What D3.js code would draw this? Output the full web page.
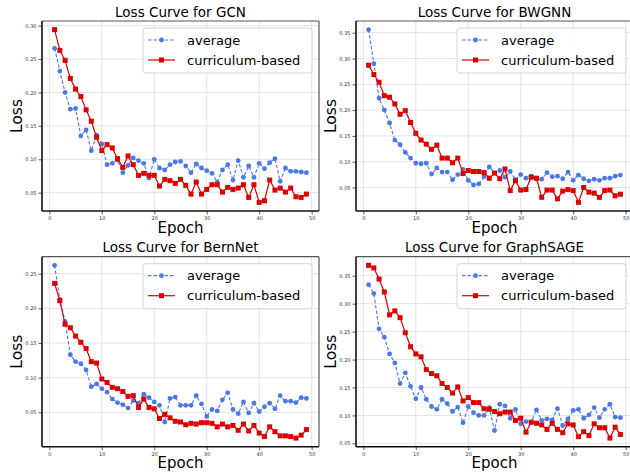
<!DOCTYPE html>
<html>
<head>
<meta charset="utf-8">
<script src="https://cdn.jsdelivr.net/npm/d3@7"></script>
<style>
  html, body { margin: 0; padding: 0; background: #fff; }
  svg { display: block; font-family: "DejaVu Sans", sans-serif; }
</style>
</head>
<body>
<svg id="chart" width="630" height="473"></svg>
<script>
// ---------------- data ----------------
const epochs = d3.range(1, 50);
const xTicks = [0, 10, 20, 30, 40, 50];
const seriesNames = ["average", "curriculum-based"];
const titles = ["Loss Curve for GCN", "Loss Curve for BWGNN", "Loss Curve for BernNet", "Loss Curve for GraphSAGE"];

const gcnAvg = [0.266,0.232,0.200,0.175,0.176,0.135,0.144,0.113,0.136,0.123,0.092,0.094,0.099,0.080,0.091,0.102,0.098,0.094,0.072,0.100,0.087,0.084,0.092,0.096,0.097,0.090,0.080,0.093,0.087,0.083,0.079,0.066,0.084,0.092,0.069,0.098,0.073,0.090,0.073,0.094,0.086,0.095,0.101,0.067,0.087,0.082,0.082,0.081,0.080];
const gcnCur = [0.294,0.263,0.248,0.221,0.205,0.194,0.174,0.157,0.133,0.113,0.122,0.117,0.101,0.088,0.105,0.092,0.076,0.079,0.076,0.076,0.060,0.070,0.068,0.064,0.070,0.061,0.048,0.066,0.048,0.055,0.062,0.062,0.051,0.058,0.055,0.057,0.062,0.043,0.062,0.0356,0.038,0.069,0.054,0.057,0.051,0.057,0.044,0.043,0.048];

const bwgnnAvg = [0.356,0.290,0.223,0.200,0.175,0.142,0.133,0.118,0.107,0.097,0.096,0.097,0.076,0.088,0.080,0.080,0.065,0.075,0.085,0.064,0.055,0.057,0.071,0.090,0.078,0.083,0.070,0.081,0.065,0.075,0.068,0.072,0.067,0.066,0.079,0.071,0.072,0.067,0.080,0.064,0.074,0.067,0.063,0.066,0.064,0.068,0.068,0.072,0.074];
const bwgnnCur = [0.287,0.269,0.254,0.228,0.225,0.212,0.192,0.199,0.176,0.155,0.142,0.134,0.124,0.132,0.107,0.107,0.098,0.107,0.077,0.083,0.081,0.081,0.079,0.068,0.078,0.067,0.086,0.044,0.063,0.045,0.046,0.070,0.068,0.031,0.045,0.045,0.028,0.043,0.046,0.044,0.0212,0.050,0.041,0.039,0.031,0.044,0.045,0.034,0.037];

const bernAvg = [0.262,0.213,0.181,0.133,0.123,0.120,0.111,0.087,0.091,0.084,0.079,0.069,0.064,0.061,0.056,0.067,0.063,0.076,0.071,0.065,0.060,0.036,0.070,0.072,0.060,0.060,0.060,0.074,0.062,0.044,0.054,0.052,0.068,0.078,0.054,0.048,0.065,0.049,0.063,0.051,0.058,0.063,0.055,0.074,0.066,0.066,0.064,0.071,0.070];
const bernCur = [0.236,0.211,0.177,0.172,0.160,0.151,0.142,0.123,0.121,0.098,0.093,0.086,0.084,0.080,0.073,0.074,0.057,0.069,0.057,0.055,0.041,0.047,0.042,0.037,0.036,0.032,0.034,0.033,0.035,0.035,0.034,0.029,0.033,0.029,0.031,0.024,0.033,0.023,0.031,0.020,0.015,0.029,0.022,0.016,0.016,0.015,0.0128,0.017,0.025];

const sageAvg = [0.334,0.318,0.255,0.240,0.210,0.194,0.157,0.176,0.152,0.130,0.150,0.129,0.116,0.111,0.129,0.121,0.107,0.115,0.087,0.116,0.105,0.100,0.100,0.114,0.073,0.120,0.117,0.095,0.111,0.085,0.089,0.088,0.110,0.091,0.094,0.092,0.112,0.082,0.094,0.109,0.111,0.095,0.101,0.114,0.096,0.111,0.120,0.097,0.096];
const sageCur = [0.3686,0.364,0.344,0.321,0.280,0.287,0.275,0.248,0.223,0.210,0.205,0.182,0.175,0.171,0.157,0.150,0.140,0.151,0.126,0.132,0.123,0.123,0.112,0.111,0.107,0.103,0.106,0.106,0.091,0.095,0.070,0.088,0.086,0.083,0.075,0.086,0.075,0.069,0.085,0.083,0.062,0.071,0.064,0.085,0.078,0.078,0.0595,0.079,0.066];

const gcnYTicks = [0.05, 0.10, 0.15, 0.20, 0.25, 0.30];
const bwgnnYTicks = [0.05, 0.10, 0.15, 0.20, 0.25, 0.30, 0.35];
const bernYTicks = [0.05, 0.10, 0.15, 0.20, 0.25];
const sageYTicks = [0.05, 0.10, 0.15, 0.20, 0.25, 0.30, 0.35];

// ---------------- layout ----------------
const panels = [
  { title: titles[0], avg: gcnAvg,   cur: gcnCur,   yTicks: gcnYTicks,   x0: 42,  y0: 21 },
  { title: titles[1], avg: bwgnnAvg, cur: bwgnnCur, yTicks: bwgnnYTicks, x0: 356, y0: 21 },
  { title: titles[2], avg: bernAvg,  cur: bernCur,  yTicks: bernYTicks,  x0: 42,  y0: 256.7 },
  { title: titles[3], avg: sageAvg,  cur: sageCur,  yTicks: sageYTicks,  x0: 356, y0: 256.7 }
];
const W = 277, H = 190;
const blue = "#4a78e6", red = "#dc0000";

const svg = d3.select("#chart");

function padDomain(lo, hi) { const r = hi - lo; return [lo - 0.05 * r, hi + 0.05 * r]; }

panels.forEach(p => {
  const g = svg.append("g").attr("transform", `translate(${p.x0},${p.y0})`);
  const x = d3.scaleLinear().domain(padDomain(1, 49)).range([0, W]);
  const all = p.avg.concat(p.cur);
  const y = d3.scaleLinear().domain(padDomain(d3.min(all), d3.max(all))).range([H, 0]);

  // clip
  const clipId = "clip" + Math.round(p.x0) + "_" + Math.round(p.y0);
  g.append("clipPath").attr("id", clipId).append("rect").attr("width", W).attr("height", H);

  // grid
  g.append("g").selectAll("line").data(xTicks).join("line")
    .attr("x1", d => x(d)).attr("x2", d => x(d)).attr("y1", 0).attr("y2", H)
    .attr("stroke", "#e3e3e3").attr("stroke-width", 1);
  g.append("g").selectAll("line").data(p.yTicks).join("line")
    .attr("x1", 0).attr("x2", W).attr("y1", d => y(d)).attr("y2", d => y(d))
    .attr("stroke", "#e3e3e3").attr("stroke-width", 1);

  // axes
  const xAxis = d3.axisBottom(x).tickValues(xTicks).tickFormat(d3.format("d")).tickSize(3.5).tickPadding(2);
  const yAxis = d3.axisLeft(y).tickValues(p.yTicks).tickFormat(d3.format(".2f")).tickSize(3.5).tickPadding(2);
  const gx = g.append("g").attr("transform", `translate(0,${H})`).call(xAxis);
  const gy = g.append("g").call(yAxis);
  [gx, gy].forEach(a => {
    a.select(".domain").remove();
    a.selectAll(".tick line").attr("stroke", "#333").attr("stroke-width", 0.8);
    a.selectAll(".tick text").attr("font-size", 5).attr("fill", "#333")
      .attr("font-family", "DejaVu Sans, sans-serif");
  });

  // series
  const line = d3.line().x((d, i) => x(epochs[i])).y(d => y(d));
  const plot = g.append("g").attr("clip-path", `url(#${clipId})`);
  plot.append("path").datum(p.avg).attr("d", line).attr("fill", "none")
    .attr("stroke", blue).attr("stroke-width", 1.1).attr("stroke-dasharray", "3.5,2");
  plot.append("g").selectAll("circle").data(p.avg).join("circle")
    .attr("cx", (d, i) => x(epochs[i])).attr("cy", d => y(d)).attr("r", 2.4).attr("fill", blue);
  plot.append("path").datum(p.cur).attr("d", line).attr("fill", "none")
    .attr("stroke", red).attr("stroke-width", 1.2);
  plot.append("g").selectAll("rect").data(p.cur).join("rect")
    .attr("x", (d, i) => x(epochs[i]) - 2.5).attr("y", d => y(d) - 2.5)
    .attr("width", 5).attr("height", 5).attr("fill", red);

  // spines
  g.append("line").attr("x1", 0).attr("x2", W).attr("y1", 0).attr("y2", 0).attr("stroke", "#555").attr("stroke-width", 1.2);
  g.append("line").attr("x1", W).attr("x2", W).attr("y1", 0).attr("y2", H).attr("stroke", "#555").attr("stroke-width", 1.2);
  g.append("line").attr("x1", 0).attr("x2", 0).attr("y1", 0).attr("y2", H).attr("stroke", "#111").attr("stroke-width", 1.6);
  g.append("line").attr("x1", 0).attr("x2", W).attr("y1", H).attr("y2", H).attr("stroke", "#111").attr("stroke-width", 1.6);

  // title & labels
  g.append("text").attr("x", W / 2).attr("y", -4.5).attr("text-anchor", "middle")
    .attr("font-size", 13.5).attr("fill", "#000").text(p.title);
  g.append("text").attr("x", W / 2).attr("y", H + 21.5).attr("text-anchor", "middle")
    .attr("font-size", 15).attr("fill", "#000").text("Epoch");
  g.append("text").attr("transform", `translate(${-20},${H / 2}) rotate(-90)`).attr("text-anchor", "middle")
    .attr("font-size", 15.5).attr("fill", "#000").text("Loss");

  // legend
  const lg = g.append("g").attr("transform", `translate(${W - 176},7)`);
  lg.append("rect").attr("width", 169).attr("height", 45).attr("rx", 3)
    .attr("fill", "#fff").attr("fill-opacity", 0.85).attr("stroke", "#d6d6d6").attr("stroke-width", 1);
  const rows = [
    { name: seriesNames[0], color: blue, dash: "3.5,2", shape: "circle" },
    { name: seriesNames[1], color: red, dash: null, shape: "square" }
  ];
  rows.forEach((r, i) => {
    const cy = 12 + i * 20;
    lg.append("line").attr("x1", 5).attr("x2", 32).attr("y1", cy).attr("y2", cy)
      .attr("stroke", r.color).attr("stroke-width", 1.2).attr("stroke-dasharray", r.dash);
    if (r.shape === "circle") {
      lg.append("circle").attr("cx", 18.5).attr("cy", cy).attr("r", 2.4).attr("fill", r.color);
    } else {
      lg.append("rect").attr("x", 16).attr("y", cy - 2.5).attr("width", 5).attr("height", 5).attr("fill", r.color);
    }
    lg.append("text").attr("x", 44).attr("y", cy).attr("dy", "0.35em")
      .attr("font-size", 13).attr("fill", "#000").text(r.name);
  });
});
</script>
</body>
</html>
